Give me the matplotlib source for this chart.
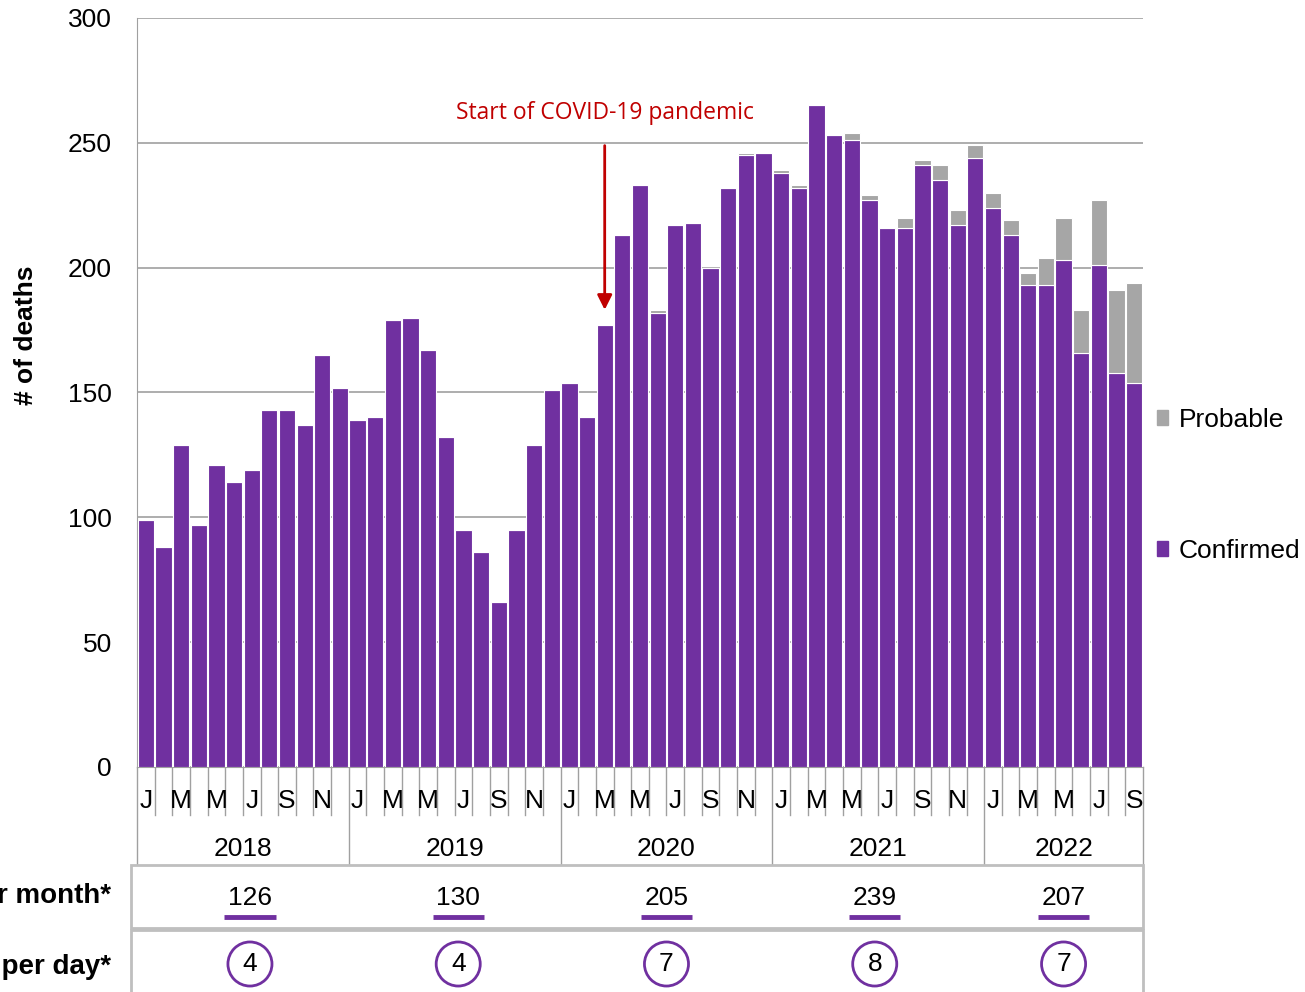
import matplotlib
matplotlib.use('Agg')
import matplotlib.pyplot as plt
import matplotlib.transforms as mtransforms
from matplotlib.patches import Patch, Rectangle

plt.rcParams['font.family'] = ['Liberation Sans', 'DejaVu Sans']

# 데이터 (2018.1 ~ 2022.9)
years = ['2018', '2019', '2020', '2021', '2022']
months_per_year = [12, 12, 12, 12, 9]
month_letters = ['J', 'F', 'M', 'A', 'M', 'J', 'J', 'A', 'S', 'O', 'N', 'D']

confirmed = [99, 88, 129, 97, 121, 114, 119, 143, 143, 137, 165, 152,
             139, 140, 179, 180, 167, 132, 95, 86, 66, 95, 129, 151,
             154, 140, 177, 213, 233, 182, 217, 218, 200, 232, 245, 246,
             238, 232, 265, 253, 251, 227, 216, 216, 241, 235, 217, 244,
             224, 213, 193, 193, 203, 166, 201, 158, 154]
probable = [0] * 12 + [0] * 12 + \
           [0, 0, 0, 0, 0, 1, 0, 0, 0, 0, 1, 0] + \
           [1, 1, 0, 0, 3, 2, 0, 4, 2, 6, 6, 5] + \
           [6, 6, 5, 11, 17, 17, 26, 33, 40]

avg_per_month = [126, 130, 205, 239, 207]
avg_per_day = [4, 4, 7, 8, 7]

purple = '#7030A0'
grey = '#A6A6A6'
line_grey = '#A0A0A0'
fs = 19

W, H = 1305, 992
fig = plt.figure(figsize=(W / 100, H / 100), dpi=100)
ax = fig.add_axes([137 / W, 1 - 767 / H, 1006 / W, 749 / H])

n = len(confirmed)
x = list(range(n))
ax.bar(x, confirmed, width=0.92, color=purple, edgecolor='white', linewidth=0.8, zorder=3)
ax.bar(x, probable, bottom=confirmed, width=0.92, color=grey, edgecolor='white', linewidth=0.8, zorder=3)

ax.set_xlim(-0.5, n - 0.5)
ax.set_ylim(0, 300)
ax.set_yticks(range(0, 301, 50))
ax.tick_params(axis='y', length=0, pad=18, labelsize=fs)
ax.set_xticks([])
ax.grid(axis='y', color=line_grey, linewidth=1.2, zorder=0)
for s in ['top', 'right']:
    ax.spines[s].set_visible(False)
ax.spines['left'].set_color(line_grey)
ax.spines['bottom'].set_color(line_grey)

ax.set_ylabel('# of deaths', fontsize=fs, fontweight='bold')
ax.yaxis.set_label_coords(-0.098, 0.577)

# 범례
handles = [Patch(color=grey), Patch(color=purple)]
ax.legend(handles, ['Probable', 'Confirmed'], loc='center left', bbox_to_anchor=(1.003, 0.376),
          frameon=False, fontsize=fs, handlelength=0.45, handleheight=0.45, handletextpad=0.4,
          labelspacing=4.05, borderaxespad=0)

# 코로나 시작 표시
ax.annotate('', xy=(26, 182), xytext=(26, 250),
            arrowprops=dict(arrowstyle='-|>', color='#C00000', lw=2, mutation_scale=22))
ax.text(26, 262, 'Start of COVID-19 pandemic', color='#C00000', fontsize=16.5,
        family=['Open Sans', 'DejaVu Sans'], ha='center', va='center')

# x축 아래 월/연도 표시
trans = mtransforms.blended_transform_factory(ax.transData, ax.transAxes)
trans_fig = mtransforms.blended_transform_factory(ax.transData, fig.transFigure)

def ax_y(py):
    return (767 - py) / 749

year_edges = [-0.5]
for m in months_per_year:
    year_edges.append(year_edges[-1] + m)

for i in range(n + 1):
    xe = i - 0.5
    bottom = ax_y(864) if xe in year_edges else ax_y(815)
    ax.plot([xe, xe], [0, bottom], color=line_grey, lw=1, transform=trans, clip_on=False)

for i in range(n):
    if i % 2 == 0:
        ax.text(i, ax_y(801), month_letters[i % 12], transform=trans, ha='center', va='center',
                fontsize=fs, clip_on=False)

for k, yr in enumerate(years):
    xc = (year_edges[k] + year_edges[k + 1]) / 2
    ax.text(xc, ax_y(849), yr, transform=trans, ha='center', va='center', fontsize=fs)

# 표 (월평균, 일평균)
def fy(py):
    return 1 - py / H

ec = '#BFBFBF'
fig.patches.append(Rectangle((131 / W, fy(928)), (1143 - 131) / W, (928 - 865) / H,
                             transform=fig.transFigure, fill=False, edgecolor=ec, lw=2))
fig.patches.append(Rectangle((131 / W, fy(1000)), (1143 - 131) / W, (1000 - 930) / H,
                             transform=fig.transFigure, fill=False, edgecolor=ec, lw=2))

fig.text(111 / W, fy(896), 'Average # of deaths per month*', ha='right', va='center',
         fontsize=20, fontweight='bold')
fig.text(111 / W, fy(967), 'Average # of deaths per day*', ha='right', va='center',
         fontsize=20, fontweight='bold')

for k in range(len(years)):
    xc = (year_edges[k] + year_edges[k + 1]) / 2
    xc = xc + (2 - k) * 0.2 if k < 4 else xc
    ax.text(xc, fy(898), str(avg_per_month[k]), transform=trans_fig, ha='center', va='center',
            fontsize=fs)
    ax.plot([xc - 1.45, xc + 1.45], [fy(917), fy(917)], color=purple, lw=3.5,
            transform=trans_fig, clip_on=False, solid_capstyle='butt')
    ax.text(xc, fy(964), str(avg_per_day[k]), transform=trans_fig, ha='center', va='center',
            fontsize=fs, bbox=dict(boxstyle='circle,pad=0.38', fc='white', ec=purple, lw=2))

fig.savefig('out.png', dpi=100)
